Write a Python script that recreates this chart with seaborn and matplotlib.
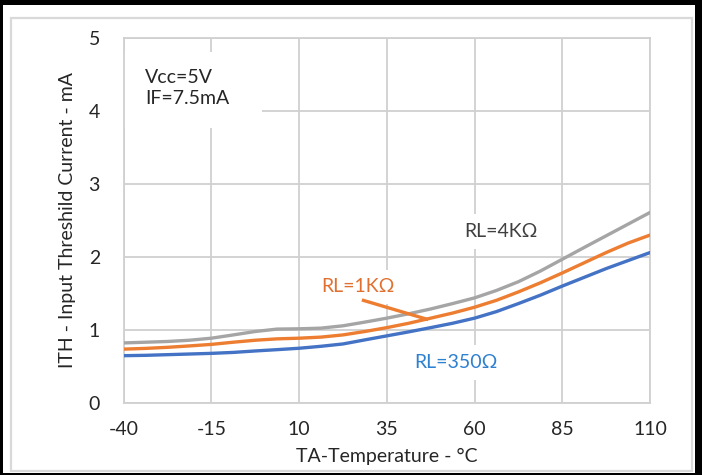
import numpy as np
import pandas as pd
import matplotlib
matplotlib.use("Agg")
import matplotlib.pyplot as plt
import seaborn as sns
from matplotlib.patches import Rectangle

# ---- data ----
temps = [-40, -33.75, -27.5, -21.25, -15, -8.75, -2.5, 3.75, 10, 16.25, 22.5, 28.75, 35,
         41.25, 47.5, 53.75, 60, 66.25, 72.5, 78.75, 85, 91.25, 97.5, 103.75, 110]
ith_4k = [0.82, 0.83, 0.84, 0.857, 0.885, 0.93, 0.977, 1.01, 1.014, 1.023, 1.055, 1.106, 1.16,
          1.22, 1.286, 1.36, 1.438, 1.54, 1.66, 1.806, 1.968, 2.13, 2.29, 2.45, 2.61]
ith_1k = [0.735, 0.745, 0.76, 0.779, 0.80, 0.83, 0.857, 0.876, 0.885, 0.90, 0.93, 0.977, 1.03,
          1.09, 1.16, 1.23, 1.31, 1.405, 1.52, 1.645, 1.78, 1.92, 2.06, 2.19, 2.30]
ith_350 = [0.645, 0.65, 0.659, 0.668, 0.677, 0.69, 0.71, 0.728, 0.747, 0.774, 0.806, 0.862, 0.917,
           0.972, 1.03, 1.09, 1.16, 1.25, 1.36, 1.475, 1.60, 1.72, 1.84, 1.95, 2.06]
series_names = ["RL=4KΩ", "RL=1KΩ", "RL=350Ω"]
line_colors = ["#a5a5a5", "#ed7d31", "#4472c4"]
x_ticks = [-40, -15, 10, 35, 60, 85, 110]
y_ticks = [0, 1, 2, 3, 4, 5]

df = pd.DataFrame({
    "temp": temps * 3,
    "ith": ith_4k + ith_1k + ith_350,
    "series": [series_names[0]] * len(temps) + [series_names[1]] * len(temps) + [series_names[2]] * len(temps),
})

sns.set_theme(style="white")
plt.rcParams["font.family"] = ["Lato", "DejaVu Sans"]

fig = plt.figure(figsize=(7.02, 4.75), dpi=100)
fig.patch.set_facecolor("black")
fig.patches.append(Rectangle((3 / 702, 2 / 475), 692 / 702, 468 / 475, transform=fig.transFigure,
                             facecolor="white", edgecolor="none", figure=fig, zorder=-5))
fig.patches.append(Rectangle((10.5 / 702, 4.5 / 475), 681 / 702, 453 / 475, transform=fig.transFigure,
                             facecolor="none", edgecolor="#d9d9d9", lw=1.6, figure=fig, zorder=-4))

ax = fig.add_axes([123.6 / 702, (475 - 402.7) / 475, (650 - 123.6) / 702, (402.7 - 38.3) / 475])
ax.set_facecolor("white")

sns.lineplot(data=df, x="temp", y="ith", hue="series", hue_order=series_names,
             palette=line_colors, linewidth=2.4, legend=False, ax=ax, zorder=3)

ax.set_xlim(-40, 110)
ax.set_ylim(0, 5)
ax.set_xticks(x_ticks)
ax.set_yticks(y_ticks)
ax.set_xticklabels([str(t) for t in x_ticks])
ax.set_yticklabels([str(t) for t in y_ticks])
ax.set_axisbelow(True)
ax.grid(True, color="#d0d0d0", lw=1.3)
for s in ax.spines.values():
    s.set_color("#d0d0d0")
    s.set_linewidth(1.3)
ax.tick_params(axis="both", length=0, labelsize=14, colors="#262626")
ax.tick_params(axis="x", pad=13)
ax.tick_params(axis="y", pad=17)

ax.set_xlabel("TA-Temperature - °C", fontsize=14, color="#262626", labelpad=7)
ax.set_ylabel("ITH - Input Threshild Current - mA", fontsize=14, color="#262626", labelpad=9)

# text box with conditions
ax.add_patch(Rectangle((0.0, 0.754), 0.263, 0.208, transform=ax.transAxes,
                       facecolor="white", edgecolor="none", zorder=1))
ax.text(-33.9, 4.32, "Vcc=5V\nIF=7.5mA", fontsize=14, color="#262626",
        ha="left", va="center", linespacing=1.25, zorder=4)

# series labels
box = dict(boxstyle="square,pad=0.45", facecolor="white", edgecolor="none")
ax.text(67.6, 2.35, series_names[0], fontsize=14, color="#404040", ha="center", va="center", bbox=box, zorder=2)
ax.text(26.8, 1.59, series_names[1], fontsize=14, color="#e07030", ha="center", va="center", bbox=box, zorder=2)
ax.text(54.7, 0.55, series_names[2], fontsize=14, color="#2e80d0", ha="center", va="center", bbox=box, zorder=2)
ax.plot([27.9, 46.8], [1.41, 1.14], color="#ed7d31", lw=2.4, zorder=3, solid_capstyle="butt")

fig.savefig("out.png", dpi=100, facecolor=fig.get_facecolor())
